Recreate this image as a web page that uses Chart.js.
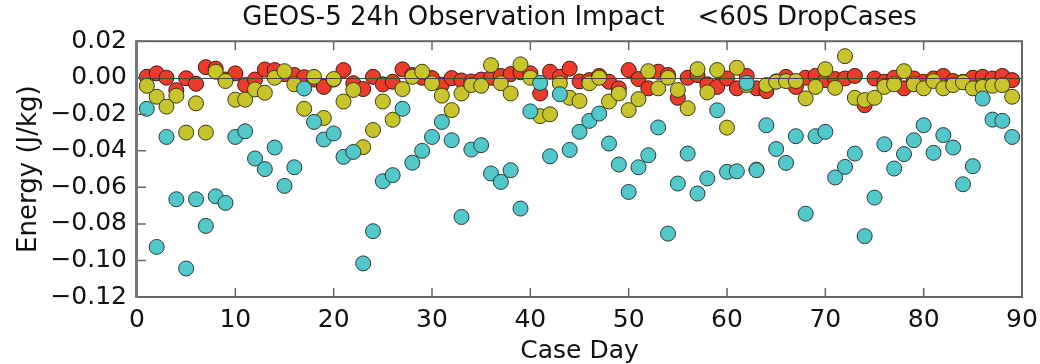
<!DOCTYPE html>
<html><head><meta charset="utf-8">
<script src="https://cdn.jsdelivr.net/npm/chart.js@4.4.0/dist/chart.umd.min.js"></script>
<style>html,body{margin:0;padding:0;background:#fff}canvas{display:block}</style>
</head><body>
<canvas id="c" width="1040" height="364"></canvas>
<script>
const days = [1,2,3,4,5,6,7,8,9,10,11,12,13,14,15,16,17,18,19,20,21,22,23,24,25,26,27,28,29,30,
  31,32,33,34,35,36,37,38,39,40,41,42,43,44,45,46,47,48,49,50,51,52,53,54,55,56,57,58,59,60,
  61,62,63,64,65,66,67,68,69,70,71,72,73,74,75,76,77,78,79,80,81,82,83,84,85,86,87,88,89];

const cyanValues = [-0.017,-0.0926,-0.0324,-0.0665,-0.1044,-0.0665,-0.0811,-0.0649,-0.0685,-0.0324,
  -0.0293,-0.0442,-0.050,-0.0382,-0.0592,-0.049,-0.0059,-0.0242,-0.0338,-0.0305,
  -0.0433,-0.0406,-0.1016,-0.084,-0.0566,-0.0533,-0.017,-0.0465,-0.040,-0.0324,
  -0.0242,-0.0342,-0.0762,-0.0393,-0.0369,-0.0524,-0.057,-0.0506,-0.0716,-0.0184,
  -0.0028,-0.043,-0.009,-0.0395,-0.0296,-0.0236,-0.0196,-0.036,-0.0475,-0.0625,
  -0.049,-0.0424,-0.0272,-0.0853,-0.0579,-0.0415,-0.0634,-0.0551,-0.0178,-0.0515,
  -0.0512,-0.0028,-0.0506,-0.026,-0.039,-0.0466,-0.032,-0.0744,-0.032,-0.0296,
  -0.0546,-0.0488,-0.0415,-0.0867,-0.0656,-0.0364,-0.0497,-0.0418,-0.0342,-0.026,
  -0.0411,-0.0314,-0.0382,-0.0583,-0.0484,-0.0114,-0.0229,-0.0236,-0.0324];

const yellowValues = [-0.0044,-0.0104,-0.0158,-0.0098,-0.030,-0.014,-0.030,0.0033,-0.0018,-0.012,
  -0.012,-0.0064,-0.0082,0.0,0.0036,-0.0036,-0.017,0.0005,-0.022,-0.0007,
  -0.013,-0.0067,-0.038,-0.0286,-0.013,-0.023,-0.0062,0.0005,0.0033,-0.003,
  -0.0098,-0.0177,-0.0086,-0.004,-0.0044,0.0069,-0.003,-0.0086,0.0073,0.0,
  -0.021,-0.020,-0.003,-0.011,-0.0127,-0.003,0.0,-0.013,-0.0086,-0.0177,
  -0.0117,0.0036,-0.0058,0.0,-0.0067,-0.0167,0.0047,-0.008,0.0042,-0.0273,
  0.0055,-0.004,-0.0503,-0.004,-0.0022,-0.0018,-0.0018,-0.0113,-0.005,0.0047,
  -0.0055,0.0118,-0.011,-0.0122,-0.011,-0.005,-0.0036,0.0036,-0.0036,-0.0058,
  -0.0018,-0.0058,-0.004,-0.0025,-0.0058,-0.005,-0.0044,-0.004,-0.0104];

const redValues = [0.0005,0.0024,0.0,-0.0068,-0.0003,-0.0033,0.0058,0.005,-0.001,0.0024,
  -0.004,-0.001,0.0045,0.0042,0.002,0.0015,0.0003,-0.001,-0.005,-0.001,
  0.0042,-0.003,-0.0062,0.0005,-0.0036,-0.0022,0.0046,0.0015,0.0,-0.0002,
  -0.0038,-0.0002,-0.0015,-0.002,-0.001,0.0,0.001,0.002,0.003,0.0024,
  -0.0086,0.0033,0.0005,0.005,-0.002,-0.0013,0.001,-0.0022,-0.0058,0.0042,
  -0.0007,-0.0058,0.0033,0.0015,-0.011,0.0,0.0015,-0.0036,-0.005,-0.0004,
  -0.0058,0.001,-0.0058,-0.0073,-0.002,0.0005,-0.005,0.0,0.001,-0.0013,
  -0.0007,-0.0004,0.001,-0.015,-0.0004,-0.0022,0.0,-0.0058,-0.0004,-0.0022,
  -0.0004,0.001,-0.0018,-0.0022,0.0,0.0005,-0.0004,0.001,-0.0013];

const xTicks = [0,10,20,30,40,50,60,70,80,90];
const xTickLabels = ['0','10','20','30','40','50','60','70','80','90'];
const yTicks = [0.02,0.00,-0.02,-0.04,-0.06,-0.08,-0.10,-0.12];
const yTickLabels = ['0.02','0.00','\u22120.02','\u22120.04','\u22120.06','\u22120.08','\u22120.10','\u22120.12'];
const titleText = 'GEOS-5 24h Observation Impact    <60S DropCases';
const xTitle = 'Case Day';
const yTitle = 'Energy (J/kg)';

function pts(vals){ return days.map((d,i)=>({x:d,y:vals[i]})); }

const framePlugin = {
  id:'framePlugin',
  afterDatasetsDraw(chart){
    const {ctx, chartArea:a, scales:{x,y}} = chart;
    ctx.save();
    const y0 = Math.round(y.getPixelForValue(0)) + 0.5;
    ctx.strokeStyle = '#444';
    ctx.lineWidth = 1;
    ctx.beginPath(); ctx.moveTo(a.left, y0); ctx.lineTo(a.right, y0); ctx.stroke();
    ctx.strokeStyle = '#666';
    ctx.lineWidth = 1.5;
    ctx.beginPath();
    xTicks.forEach(v=>{
      const px = x.getPixelForValue(v);
      ctx.moveTo(px, a.bottom); ctx.lineTo(px, a.bottom-9);
      ctx.moveTo(px, a.top); ctx.lineTo(px, a.top+9);
    });
    yTicks.forEach(v=>{
      const py = y.getPixelForValue(v);
      ctx.moveTo(a.left, py); ctx.lineTo(a.left+9, py);
    });
    ctx.stroke();
    ctx.strokeStyle = '#666';
    ctx.lineWidth = 2;
    ctx.strokeRect(a.left, a.top, a.right-a.left, a.bottom-a.top);
    ctx.strokeStyle = '#777';
    ctx.lineWidth = 3;
    ctx.beginPath(); ctx.moveTo(a.left-0.5, a.top-1); ctx.lineTo(a.left-0.5, a.bottom+1); ctx.stroke();
    ctx.restore();
  }
};

Chart.defaults.font.family = "'DejaVu Sans', Verdana, sans-serif";
Chart.defaults.color = '#111';

new Chart(document.getElementById('c'), {
  type:'scatter',
  data:{
    datasets:[
      {label:'cyan', data:pts(cyanValues), backgroundColor:'#52c8cb', borderColor:'#2a3a3a', borderWidth:1, pointRadius:7.5, pointHoverRadius:7.5},
      {label:'yellow', data:pts(yellowValues), backgroundColor:'#c8c42c', borderColor:'#3a3a10', borderWidth:1, pointRadius:7.5, pointHoverRadius:7.5},
      {label:'red', data:pts(redValues), backgroundColor:'#ec3b2c', borderColor:'#3a1a10', borderWidth:1, pointRadius:7.5, pointHoverRadius:7.5}
    ]
  },
  options:{
    responsive:false,
    animation:false,
    devicePixelRatio:1,
    layout:{padding:{left:0,right:18,top:0,bottom:0}},
    plugins:{
      legend:{display:false},
      tooltip:{enabled:false},
      title:{display:true, text:titleText, fullSize:false, color:'#111',
        font:{size:26, weight:'normal', lineHeight:1.2}, padding:{top:3,bottom:7}}
    },
    scales:{
      x:{type:'linear', min:0, max:90,
        afterBuildTicks(s){ s.ticks = xTicks.map(v=>({value:v})); },
        afterFit(s){ s.height = 67; },
        grid:{display:false, drawTicks:false},
        border:{display:false},
        ticks:{padding:0, font:{size:25, lineHeight:1.84}, maxRotation:0, autoSkip:false,
          callback:(v,i)=>xTickLabels[i]},
        title:{display:true, text:xTitle, font:{size:25, lineHeight:1.0}, padding:{top:0,bottom:0}}
      },
      y:{type:'linear', min:-0.12, max:0.02,
        afterBuildTicks(s){ s.ticks = yTicks.map(v=>({value:v})); },
        afterFit(s){ s.width = 137; },
        grid:{display:false, drawTicks:false},
        border:{display:false},
        ticks:{padding:10, font:{size:25}, autoSkip:false,
          callback:(v,i)=>yTickLabels[i]},
        title:{display:true, text:yTitle, font:{size:26, lineHeight:1.2}, padding:{top:14,bottom:0}}
      }
    }
  },
  plugins:[framePlugin]
});
</script>
</body></html>
